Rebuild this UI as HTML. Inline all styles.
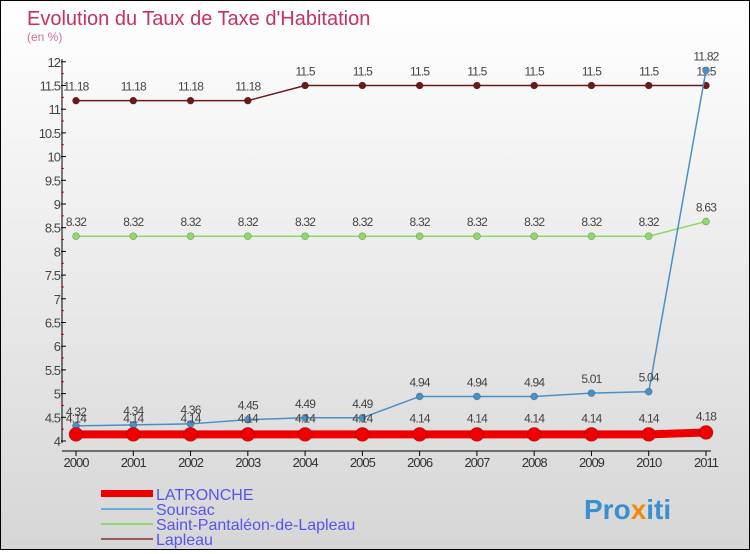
<!DOCTYPE html>
<html><head><meta charset="utf-8"><style>
body{margin:0;width:750px;height:550px;overflow:hidden;font-family:"Liberation Sans",sans-serif}
#c{position:absolute;left:0;top:0;width:748px;height:548px;border:1px solid #000;background:linear-gradient(#ffffff,#d6d6d6)}
</style></head><body>
<div id="c">
<svg id="s" width="748" height="548" xmlns="http://www.w3.org/2000/svg">
<text x="26" y="24" font-size="20" fill="#c8305e">Evolution du Taux de Taxe d'Habitation</text>
<text x="26" y="40" font-size="12" fill="#c8709e">(en %)</text>
<g id="axes"></g><g id="series"></g>
<g>
<rect x="100" y="489" width="52" height="7" fill="#ee0000"/>
<text x="155" y="499" font-size="16" fill="#5555ee">LATRONCHE</text>
<rect x="100" y="507" width="52" height="2" fill="#6aa8d8"/>
<text x="155" y="514" font-size="16" fill="#5555ee">Soursac</text>
<rect x="100" y="522" width="52" height="2" fill="#90d870"/>
<text x="155" y="529" font-size="16" fill="#5555ee">Saint-Pantaléon-de-Lapleau</text>
<rect x="100" y="537" width="52" height="2" fill="#9a5a5a"/>
<text x="155" y="544" font-size="16" fill="#5555ee">Lapleau</text>
</g>
<text x="583" y="518" font-size="28" font-weight="bold" fill="#3a8fd0">Pro<tspan fill="#f08a10">x</tspan>iti</text>
</svg></div>
<script>
const years=[2000,2001,2002,2003,2004,2005,2006,2007,2008,2009,2010,2011];
const latronche=[4.14,4.14,4.14,4.14,4.14,4.14,4.14,4.14,4.14,4.14,4.14,4.18];
const soursac=[4.32,4.34,4.36,4.45,4.49,4.49,4.94,4.94,4.94,5.01,5.04,11.82];
const saintp=[8.32,8.32,8.32,8.32,8.32,8.32,8.32,8.32,8.32,8.32,8.32,8.63];
const lapleau=[11.18,11.18,11.18,11.18,11.5,11.5,11.5,11.5,11.5,11.5,11.5,11.5];
const yTicks=[4,4.5,5,5.5,6,6.5,7,7.5,8,8.5,9,9.5,10,10.5,11,11.5,12];
const NS="http://www.w3.org/2000/svg";
const X=i=>75+i*(630/11), Y=v=>440-(v-4)*47.4;
function mk(t,a,p){const e=document.createElementNS(NS,t);for(const k in a)e.setAttribute(k,a[k]);p.appendChild(e);return e;}
const ax=document.getElementById('axes'),sr=document.getElementById('series');
let l=mk('line',{x1:61,y1:58,x2:61,y2:442,stroke:'#000'},ax);


yTicks.forEach(v=>{
 mk('line',{x1:60,x2:65,y1:Y(v),y2:Y(v),stroke:'#000'},ax);
 if(v<12)mk('line',{x1:60,x2:63,y1:Y(v+0.25),y2:Y(v+0.25),stroke:'#e00'},ax);
 const t=mk('text',{x:59,y:Y(v)+5,'font-size':13,'text-anchor':'end',fill:'#444','letter-spacing':'-1'},ax);
 t.textContent=v;
 
 
});
l=mk('line',{x1:61,y1:450,x2:710,y2:450,stroke:'#000','stroke-width':1},ax);


years.forEach((y,i)=>{
 mk('line',{x1:X(i),x2:X(i),y1:450,y2:455,stroke:'#000'},ax);
 const t=mk('text',{x:X(i),y:466,'font-size':13,'text-anchor':'middle',fill:'#333','letter-spacing':'-1'},ax);
 t.textContent=y;
 
 
});
function series(vals,color,w,r,name,dy){
 const g=mk('g',{},sr);
 
 
 mk('polyline',{points:vals.map((v,i)=>X(i)+','+Y(v)).join(' '),fill:'none',stroke:color,'stroke-width':w},g);
 vals.forEach((v,i)=>{
  const c=mk('circle',{cx:X(i),cy:Y(v),r:r,fill:color,stroke:'rgba(0,0,0,0.3)','stroke-width':0.6},g);
  
  
  const t=mk('text',{x:X(i),y:Y(v)-dy,'font-size':12,'text-anchor':'middle',fill:'#444','letter-spacing':'-0.8'},g);
  t.textContent=v;
 });
}
series(lapleau,'#6b1a1a',1.5,3.5,'lapleau',10);
series(saintp,'#8fd86a',1.5,3.5,'saint-pantaleon',10);
series(soursac,'#4a90c8',1.5,3.5,'soursac',10);
series(latronche,'#ee0000',8,7,'latronche',12);
</script>
</body></html>
